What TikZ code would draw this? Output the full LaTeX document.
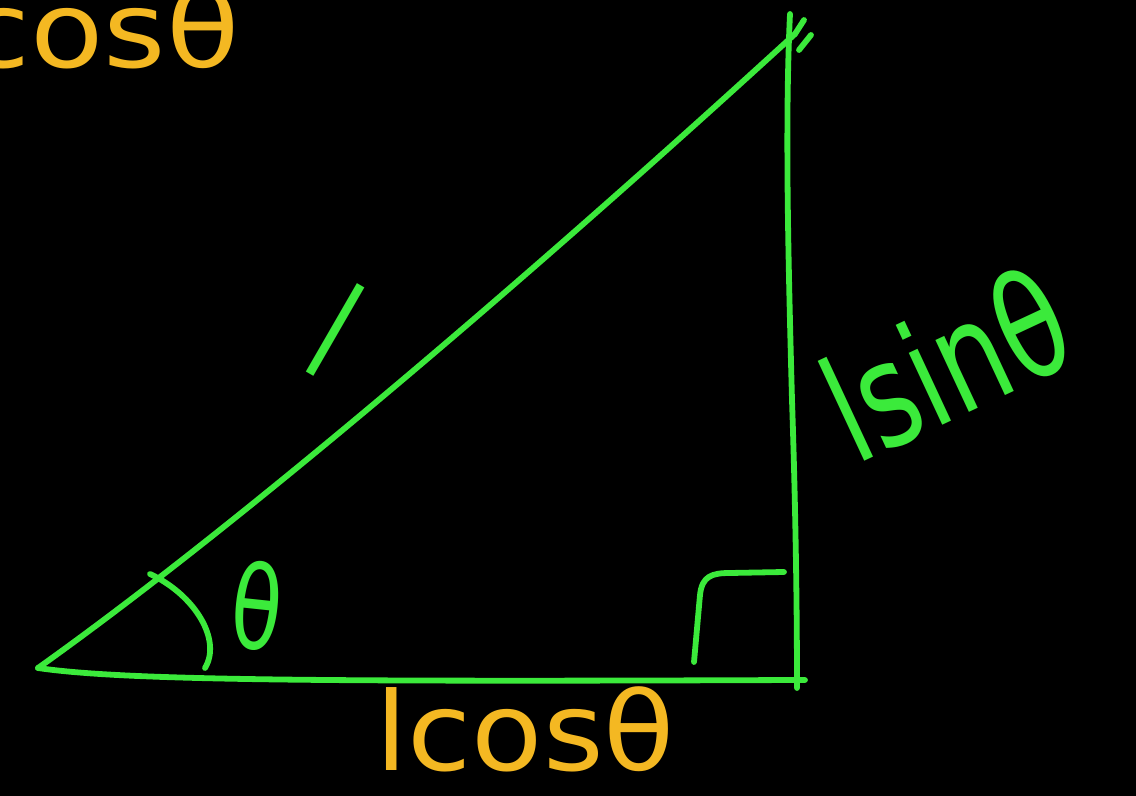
\documentclass[tikz,border=0pt]{standalone}
\usepackage{fontspec}
\setmainfont{DejaVu Sans}
\usepackage{graphicx}
\definecolor{pen}{HTML}{3BEA3B}
\definecolor{ink}{HTML}{F4B822}
\begin{document}
\begin{tikzpicture}[x=0.5pt,y=-0.5pt,
  stroke/.style={draw=pen,line width=2.9pt,line cap=round,line join=round},
  glabel/.style={text=pen,inner sep=0pt},
  olabel/.style={text=ink,inner sep=0pt}]
\fill[black] (0,0) rectangle (1136,796);
\useasboundingbox (0,0) rectangle (1136,796);
% vertices
\coordinate (A) at (38,668);
\coordinate (B) at (797,680);
\coordinate (C) at (795,34);
\coordinate (T) at (790,14);
\coordinate (Bd) at (797,688);
% hypotenuse
\draw[stroke] (A) .. controls (260,510) and (570,240) .. (C);
% base
\draw[stroke] (A) .. controls (120,680) and (300,682) .. (B) -- (805,680);
% vertical side
\draw[stroke] (T) .. controls (785,120) and (788,250) .. (792,400) .. controls (796,520) and (797,620) .. (Bd);
% tick marks at top
\coordinate (k1) at (804,20);
\coordinate (k2) at (799,50);
\coordinate (k3) at (811,35);
\draw[stroke] (C) -- (k1);
\draw[stroke] (k2) -- (k3);
% angle arc
\coordinate (a1) at (150,574);
\coordinate (a2) at (205,668);
\draw[stroke] (a1) .. controls (195,595) and (222,640) .. (a2);
% right angle mark
\coordinate (r1) at (694,662);
\coordinate (r2) at (784,572);
\draw[stroke] (r1) -- (700,595) .. controls (702,576) and (712,573) .. (730,573) -- (r2);
% labels
\node[glabel,font=\fontsize{46}{50}\selectfont,rotate=-6] (theta) at (257,606) {\scalebox{0.9}[1.25]{θ}};
\node[glabel,font=\fontsize{48}{50}\selectfont,rotate=-30] (l) at (336,330) {\scalebox{1}[1.4]{l}};
\node[glabel,font=\fontsize{50}{60}\selectfont,rotate=25,anchor=base west] (lsin) at (855,466) {\scalebox{1.08}[1.45]{lsinθ}};
\node[olabel,font=\fontsize{52}{60}\selectfont,anchor=base west] (lcos) at (375,770) {\scalebox{1.12}[1.05]{lcosθ}};
\node[olabel,font=\fontsize{48}{60}\selectfont,anchor=base west] (cos) at (-36,68) {\scalebox{1.25}[1.1]{cosθ}};
\end{tikzpicture}
\end{document}
